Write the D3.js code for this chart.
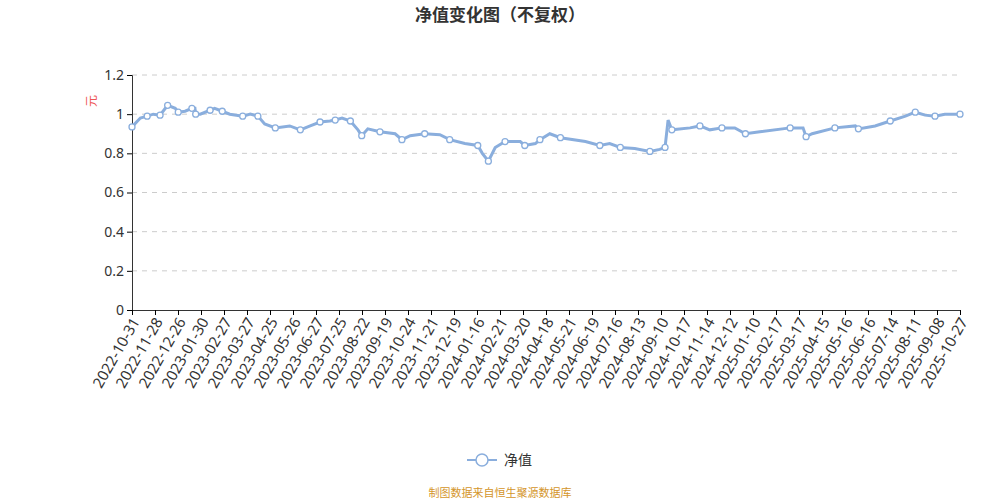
<!DOCTYPE html>
<html>
<head>
<meta charset="utf-8">
<script src="https://cdn.jsdelivr.net/npm/d3@7"></script>
<style>
	body { margin: 0; background: #fff; font-family: "Noto Sans CJK SC", "Noto Sans", sans-serif; }
</style>
</head>
<body>
<svg id="chart" width="1000" height="500"></svg>
<script>
	// days since 2022-10-31 and net value
	var dayOffsets = [0,11,20,28,37,44,47,57,61,70,79,83,84,90,103,109,119,129,146,156,166,175,189,208,222,235,248,261,268,277,288,298,303,311,327,347,356,367,386,406,419,439,456,462,470,479,492,512,518,532,538,551,565,598,617,630,644,663,683,696,703,707,712,736,749,762,778,795,809,828,868,885,889,897,927,954,958,980,1000,1020,1033,1046,1059,1072,1092];
	var netValues = [0.935,0.98,0.99,1.0,0.995,1.03,1.045,1.03,1.01,1.015,1.03,1.03,1.0,1.0,1.02,1.03,1.015,1.0,0.99,1.0,0.99,0.95,0.93,0.94,0.92,0.94,0.96,0.965,0.97,0.98,0.965,0.92,0.89,0.925,0.91,0.9,0.87,0.89,0.9,0.895,0.87,0.85,0.84,0.8,0.76,0.83,0.86,0.86,0.84,0.85,0.87,0.9,0.88,0.86,0.84,0.85,0.83,0.825,0.81,0.82,0.83,0.97,0.92,0.93,0.94,0.92,0.93,0.93,0.9,0.91,0.93,0.93,0.885,0.9,0.93,0.94,0.925,0.94,0.965,0.99,1.01,0.995,0.99,1.0,1.0];
	var tickLabels = ['2022-10-31','2022-11-28','2022-12-26','2023-01-30','2023-02-27','2023-03-27','2023-04-25','2023-05-26','2023-06-27','2023-07-25','2023-08-22','2023-09-19','2023-10-24','2023-11-21','2023-12-19','2024-01-16','2024-02-21','2024-03-20','2024-04-18','2024-05-21','2024-06-19','2024-07-16','2024-08-13','2024-09-10','2024-10-17','2024-11-14','2024-12-12','2025-01-10','2025-02-17','2025-03-17','2025-04-15','2025-05-16','2025-06-16','2025-07-14','2025-08-11','2025-09-08','2025-10-27'];
	var yTicks = [0, 0.2, 0.4, 0.6, 0.8, 1, 1.2];

	var start = new Date(2022, 9, 31);
	var dates = dayOffsets.map(d => d3.timeDay.offset(start, d));
	var data = dates.map((d, i) => ({ date: d, value: netValues[i] }));

	var svg = d3.select('#chart');
	var x = d3.scaleLinear().domain([0, tickLabels.length - 1]).range([132, 960]);
	var xTime = d3.scaleTime().domain([start, d3.timeDay.offset(start, 1092)]).range([132, 960]);
	var y = d3.scaleLinear().domain([0, 1.2]).range([310, 75]);

	svg.append('text').attr('x', 500).attr('y', 21).attr('text-anchor', 'middle')
		.attr('font-size', 17).attr('font-weight', 'bold').attr('fill', '#333').text('净值变化图（不复权）');

	// grid
	svg.append('g').selectAll('line').data(yTicks.filter(d => d > 0)).enter().append('line')
		.attr('x1', 132).attr('x2', 960).attr('y1', d => y(d)).attr('y2', d => y(d))
		.attr('stroke', '#ccc').attr('stroke-dasharray', '5,5');

	var yAxis = svg.append('g').attr('transform', 'translate(132,0)')
		.call(d3.axisLeft(y).tickValues(yTicks).tickSize(5).tickFormat(d => d));
	yAxis.select('.domain').attr('stroke', '#333');
	yAxis.selectAll('text').attr('font-size', 14).attr('fill', '#333').attr('font-family', 'Noto Sans, sans-serif');

	var xAxis = svg.append('g').attr('transform', 'translate(0,310)')
		.call(d3.axisBottom(x).tickValues(d3.range(tickLabels.length)).tickSize(5).tickFormat(i => tickLabels[i]));
	xAxis.select('.domain').attr('stroke', '#333');
	xAxis.selectAll('text').attr('font-size', 15).attr('fill', '#333').attr('font-family', 'Noto Sans, sans-serif')
		.attr('text-anchor', 'end').attr('dx', '-0.4em').attr('dy', '0.3em')
		.attr('transform', 'rotate(-60)');

	svg.append('text').attr('transform', 'translate(96,101) rotate(-90)').attr('text-anchor', 'middle')
		.attr('font-size', 12).attr('fill', '#e55').text('元');

	var line = d3.line().x(d => xTime(d.date)).y(d => y(d.value));
	svg.append('path').datum(data).attr('d', line).attr('fill', 'none')
		.attr('stroke', '#8aaedd').attr('stroke-width', 3);

	svg.append('g').selectAll('circle').data(data.filter((d, i) => i % 2 === 0 || i === data.length - 1)).enter().append('circle')
		.attr('cx', d => xTime(d.date)).attr('cy', d => y(d.value)).attr('r', 3)
		.attr('fill', '#fff').attr('stroke', '#8aaedd').attr('stroke-width', 1.3);

	// legend
	svg.append('line').attr('x1', 467).attr('x2', 497).attr('y1', 460).attr('y2', 460)
		.attr('stroke', '#8aaedd').attr('stroke-width', 2);
	svg.append('circle').attr('cx', 482).attr('cy', 460).attr('r', 6)
		.attr('fill', '#fff').attr('stroke', '#8aaedd').attr('stroke-width', 1.5);
	svg.append('text').attr('x', 504).attr('y', 465).attr('font-size', 14).attr('fill', '#333').text('净值');

	svg.append('text').attr('x', 500).attr('y', 497).attr('text-anchor', 'middle')
		.attr('font-size', 11).attr('fill', '#d4952a').text('制图数据来自恒生聚源数据库');
</script>
</body>
</html>
